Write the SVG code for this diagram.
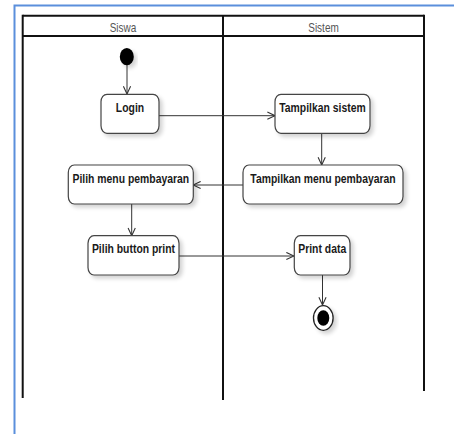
<svg xmlns="http://www.w3.org/2000/svg" width="454" height="434" viewBox="0 0 454 434">
  <defs>
    <filter id="shadow" x="-20%" y="-20%" width="150%" height="160%">
      <feGaussianBlur in="SourceAlpha" stdDeviation="2"/>
      <feOffset dx="3" dy="3" result="b"/>
      <feComponentTransfer><feFuncA type="linear" slope="0.18"/></feComponentTransfer>
      <feMerge><feMergeNode/><feMergeNode in="SourceGraphic"/></feMerge>
    </filter>
    <marker id="open" viewBox="0 0 10 10" refX="9.5" refY="5" markerWidth="9" markerHeight="9" markerUnits="userSpaceOnUse" orient="auto">
      <path d="M1,1 L9.5,5 L1,9" fill="none" stroke="#333" stroke-width="1.2"/>
    </marker>
  </defs>
  <style>
    .frame { fill: none; stroke: #5b8fdc; stroke-width: 2; }
    .lane { fill: none; stroke: #111; stroke-width: 2; }
    .head { font-family: "Liberation Sans", Arial, sans-serif; font-size: 12.5px; fill: #555; text-anchor: middle; }
    .box { fill: #fff; stroke: #444; stroke-width: 1.2; }
    .label { font-family: "Liberation Sans", Arial, sans-serif; font-weight: bold; font-size: 13px; fill: #1a1a1a; text-anchor: middle; }
    .edge { fill: none; stroke: #333; stroke-width: 1; marker-end: url(#open); }
  </style>

  <rect width="454" height="434" fill="#fff"/>
  <!-- outer page frame -->
  <rect class="frame" x="14.5" y="5.5" width="460" height="450"/>

  <!-- swimlanes -->
  <g id="swimlanes">
    <line class="lane" x1="22.7" y1="15.7" x2="424" y2="15.7"/>
    <line class="lane" x1="22.7" y1="36" x2="424" y2="36"/>
    <line class="lane" x1="22.7" y1="14.7" x2="22.7" y2="398"/>
    <line class="lane" x1="223" y1="15.7" x2="223" y2="400"/>
    <line class="lane" x1="424" y1="14.7" x2="424" y2="391"/>
    <text class="head" transform="matrix(0.8 0 0 1 123 32.3)">Siswa</text>
    <text class="head" transform="matrix(0.8 0 0 1 323.5 32.3)">Sistem</text>
  </g>

  <!-- connectors -->
  <g id="connectors">
    <line class="edge" x1="127" y1="65" x2="127" y2="94"/>
    <line class="edge" x1="159" y1="115.7" x2="275" y2="115.7"/>
    <line class="edge" x1="321.7" y1="133" x2="321.7" y2="165"/>
    <line class="edge" x1="243" y1="185" x2="193" y2="185"/>
    <line class="edge" x1="131.7" y1="204" x2="131.7" y2="235.7"/>
    <line class="edge" x1="179" y1="256" x2="294" y2="256"/>
    <line class="edge" x1="322.5" y1="275" x2="322.5" y2="305"/>
  </g>

  <!-- start node -->
  <g id="start">
    <ellipse cx="126.8" cy="56.7" rx="7" ry="8.6" fill="#000" filter="url(#shadow)"/>
  </g>

  <g id="login">
    <rect class="box" x="101" y="94.3" width="58" height="39" rx="6" ry="7.5" filter="url(#shadow)"/>
    <text class="label" transform="matrix(0.8 0 0 1 130 111.7)">Login</text>
  </g>

  <g id="tampilkan-sistem">
    <rect class="box" x="275" y="94.3" width="95" height="39" rx="6" ry="7.5" filter="url(#shadow)"/>
    <text class="label" transform="matrix(0.8 0 0 1 322.5 111.7)">Tampilkan sistem</text>
  </g>

  <g id="tampilkan-menu">
    <rect class="box" x="243" y="165" width="160" height="39" rx="6" ry="7.5" filter="url(#shadow)"/>
    <text class="label" transform="matrix(0.8 0 0 1 323 182.5)">Tampilkan menu pembayaran</text>
  </g>

  <g id="pilih-menu">
    <rect class="box" x="68.3" y="165" width="125" height="39" rx="6" ry="7.5" filter="url(#shadow)"/>
    <text class="label" transform="matrix(0.8 0 0 1 130.8 182.5)">Pilih menu pembayaran</text>
  </g>

  <g id="pilih-button">
    <rect class="box" x="88" y="235.7" width="91" height="39.3" rx="6" ry="7.5" filter="url(#shadow)"/>
    <text class="label" transform="matrix(0.8 0 0 1 133.5 252.5)">Pilih button print</text>
  </g>

  <g id="print-data">
    <rect class="box" x="294.3" y="235.7" width="55.7" height="39.3" rx="6" ry="7.5" filter="url(#shadow)"/>
    <text class="label" transform="matrix(0.8 0 0 1 322.2 252.5)">Print data</text>
  </g>

  <!-- final node -->
  <g id="end">
    <ellipse cx="323.3" cy="318" rx="9.8" ry="12.3" fill="#fff" stroke="#222" stroke-width="1.3" filter="url(#shadow)"/>
    <ellipse cx="323.3" cy="318" rx="6" ry="7.7" fill="#000"/>
  </g>
</svg>
